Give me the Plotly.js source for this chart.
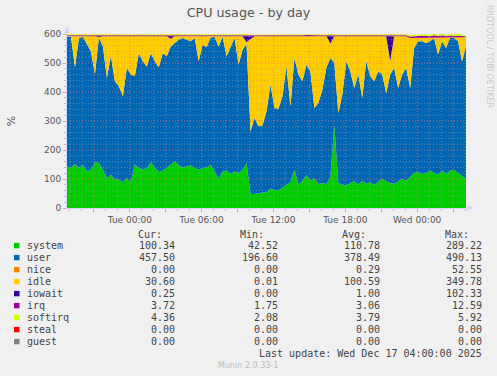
<!DOCTYPE html>
<html><head><meta charset="utf-8">
<script src="https://cdn.plot.ly/plotly-3.0.1.min.js"></script>
<style>html,body{margin:0;padding:0;background:#F0F0F0;}#chart{width:497px;height:376px;}</style>
</head><body><div id="chart"></div>
<script>
// ---- time axis: one sample every 20 minutes ----
const startTime = Date.UTC(2025, 11, 15, 18, 45);
const stepMinutes = 20;

// ---- series values (percent) ----
const system = [144,138,152,138,149,126,132,158,155,132,
  103,115,98,98,90,103,90,150,140,132,
  138,158,140,124,129,138,149,161,147,140,
  144,147,138,132,138,140,149,124,101,126,
  129,117,126,121,132,155,48,48,51,53,
  55,67,62,60,69,80,90,132,80,94,
  113,94,103,83,85,83,105,285,86,80,
  78,86,92,80,94,83,90,80,90,101,
  92,86,83,92,101,94,106,121,124,117,
  121,129,121,115,129,117,129,132,121,109,
  100.34];
const user = [446,452,333,448,441,439,408,304,433,425,
  345,410,339,322,295,380,370,304,394,374,
  350,376,366,361,405,385,408,408,433,446,
  436,428,448,374,425,414,439,466,456,464,
  394,435,460,373,414,410,216,262,231,232,
  278,358,283,282,316,408,260,385,380,343,
  381,377,242,279,323,400,412,215,241,311,
  428,385,322,380,285,423,364,357,381,359,
  304,374,400,322,359,389,308,431,451,458,
  448,446,465,414,446,435,457,454,454,397,
  457.5];
const nice = [0,0,0,0,0,0,0,0,0,0, 0,0,0,0,0,0,0,0,0,0, 0,0,0,0,0,0,0,0,0,0,
  0,0,0,0,0,0,0,0,0,0, 0,0,0,0,0,0,0,0,0,0, 0,0,0,0,0,0,0,0,0,0,
  0,0,0,0,0,0,0,0,0,0, 0,0,0,0,0,0,0,0,0,0, 0,0,0,0,0,0,0,0,0,0,
  0,0,0,0,0,0,0,0,0,0, 0];
const idle = [2,2,107,6,2,27,52,130,0.5,35,
  144,67,155,172,207,109,132,138,58,86,
  104,58,86,107,58,69,27,23,12,6,
  12,17,6,86,29,38,4,2,35,2,
  69,40,6,98,46,7,318,282,310,307,
  259,167,247,250,207,104,242,75,132,155,
  98,121,247,230,184,109,50,92,265,201,
  86,121,178,132,213,86,138,155,121,132,
  196,47,109,178,132,109,172,34,11,11,
  17,11,1,57,11,34,1,1,11,80,
  30.6];
const iowait = [0.5,0.5,0.5,0.5,0.5,0.5,0.5,0.5,5,0.5,
  0.5,0.5,0.5,0.5,0.5,0.5,0.5,0.5,0.5,0.5,
  0.5,0.5,0.5,0.5,0.5,0.5,8,2,0.5,0.5,
  0.5,0.5,0.5,0.5,0.5,0.5,0.5,0.5,0.5,0.5,
  0.5,0.5,0.5,0.5,0.5,20,10,0.5,0.5,0.5,
  0.5,0.5,0.5,0.5,0.5,0.5,0.5,0.5,0.5,0.5,
  1.5,0.5,0.5,0.5,0.5,0.5,25,0.5,0.5,0.5,
  0.5,0.5,0.5,0.5,0.5,0.5,0.5,0.5,0.5,0.5,
  0.5,85,0.5,0.5,0.5,0.5,0.5,0.5,0.5,0.5,
  0.5,0.5,0.5,0.5,0.5,0.5,0.5,0.5,0.5,0.5,
  0.25];
const irq = [3.0,2.8,3.2,3.1,2.9,3.0,3.3,2.7,3.1,3.0,
  2.9,3.1,2.8,3.0,3.2,2.9,3.0,3.1,2.8,3.0,
  3.1,2.9,3.0,3.2,2.8,3.0,3.4,3.1,2.9,3.0,
  3.0,2.9,3.1,3.0,2.8,3.0,3.2,2.9,3.0,3.1,
  2.9,3.0,3.1,2.8,3.0,3.3,2.6,2.5,2.4,2.6,
  2.5,2.7,2.6,2.5,2.8,2.7,2.6,2.9,2.7,2.8,
  2.9,2.8,2.7,2.9,2.8,3.0,3.2,3.0,2.8,2.9,
  2.8,3.0,2.9,2.8,3.0,2.9,3.1,2.8,2.9,3.0,
  3.1,3.6,3.0,2.9,3.1,3.2,4.5,6.0,5.2,7.5,
  6.8,5.5,8.2,6.4,9.0,5.8,7.2,6.1,8.5,5.4,
  3.72];
const softirq = [3.8,3.9,3.7,3.8,4.0,3.7,3.8,3.9,3.6,3.8,
  3.7,3.9,3.8,3.6,3.7,3.8,4.0,3.9,3.7,3.8,
  3.8,3.7,3.9,3.8,3.6,3.8,3.9,3.7,3.8,4.0,
  3.9,3.8,3.7,3.8,3.9,3.7,3.8,3.6,3.8,3.9,
  3.8,3.7,3.9,3.8,3.7,3.9,3.2,3.1,3.0,3.2,
  3.1,3.3,3.2,3.1,3.3,3.4,3.2,3.6,3.3,3.4,
  3.5,3.4,3.3,3.5,3.4,3.6,3.8,3.5,3.4,3.5,
  3.4,3.6,3.5,3.4,3.6,3.5,3.7,3.4,3.5,3.6,
  3.7,3.9,3.6,3.5,3.7,3.8,4.5,5.2,4.8,5.5,
  5.1,4.7,5.6,4.9,5.9,4.6,5.3,4.8,5.7,4.4,
  4.36];
const steal = nice.slice();
const guest = nice.slice();

// ---- legend / stats ----
const seriesNames = ['system','user','nice','idle','iowait','irq','softirq','steal','guest'];
const seriesColors = ['#00CC00','#0066B3','#FF8000','#FFCC00','#330099','#990099','#CCFF00','#FF0000','#808080'];
const curVals = ['100.34','457.50','0.00','30.60','0.25','3.72','4.36','0.00','0.00'];
const minVals = ['42.52','196.60','0.00','0.01','0.00','1.75','2.08','0.00','0.00'];
const avgVals = ['110.78','378.49','0.29','100.59','1.00','3.06','3.79','0.00','0.00'];
const maxVals = ['289.22','490.13','52.55','349.78','102.33','12.59','5.92','0.00','0.00'];
const statHeaders = ['Cur:','Min:','Avg:','Max:'];

// ---- tick labels ----
const xTickVals = ['2025-12-15 21:00','2025-12-16 00:00','2025-12-16 03:00','2025-12-16 06:00','2025-12-16 09:00',
  '2025-12-16 12:00','2025-12-16 15:00','2025-12-16 18:00','2025-12-16 21:00','2025-12-17 00:00','2025-12-17 03:00'];
const xTickText = ['','Tue 00:00','','Tue 06:00','','Tue 12:00','','Tue 18:00','','Wed 00:00',''];
const yTickVals = [0,100,200,300,400,500,600];
const yTickText = ['0','100','200','300','400','500','600'];

const titleText = 'CPU usage - by day';
const yTitle = '%';
const lastUpdate = 'Last update: Wed Dec 17 04:00:00 2025';
const footer = 'Munin 2.0.33-1';
const sideText = 'RRDTOOL / TOBI OETIKER';

// ---------------------------------------------------------------
function fmt(ms){const d=new Date(ms);const p=n=>String(n).padStart(2,'0');
  return d.getUTCFullYear()+'-'+p(d.getUTCMonth()+1)+'-'+p(d.getUTCDate())+' '+p(d.getUTCHours())+':'+p(d.getUTCMinutes());}
const times = system.map((_,k)=>fmt(startTime + k*stepMinutes*60000));
const endTime = startTime + (system.length-1)*stepMinutes*60000;

const seriesData = [system,user,nice,idle,iowait,irq,softirq,steal,guest];
const traces = seriesNames.map((n,i)=>({
  x: times, y: seriesData[i], name: n, type: 'scatter', mode: 'lines',
  stackgroup: 'cpu', line: {width: 0, color: seriesColors[i]},
  fillcolor: seriesColors[i], hoverinfo: 'skip'
}));

const L=67, T=34, W=399, H=174, FW=497, FH=376;
const X = px => (px-L)/W;
const Y = py => (T+H-py)/H;
const MINOR = 'rgba(160,160,160,0.6)';
const MAJOR = 'rgba(255,110,110,0.75)';
const DOT = '1px,2px';

const shapes = [];
for (let v=20; v<=600; v+=20) {
  const major = v%100===0;
  shapes.push({type:'line', xref:'paper', x0:0, x1:1, yref:'y', y0:v, y1:v, layer:'above',
    line:{color: major?MAJOR:MINOR, width:1, dash:DOT}});
}
for (let t=Date.UTC(2025,11,15,19); t<=endTime; t+=3600000) {
  const major = new Date(t).getUTCHours()%3===0;
  shapes.push({type:'line', xref:'x', x0:fmt(t), x1:fmt(t), yref:'paper', y0:0, y1:1, layer:'above',
    line:{color: major?MAJOR:MINOR, width:1, dash:DOT}});
}
// axis arrows
shapes.push({type:'path', xref:'paper', yref:'paper', xsizemode:'pixel', ysizemode:'pixel', xanchor:0, yanchor:1,
  path:'M -3,1 L 3,1 L 0,8 Z', fillcolor:'#CFD6F8', line:{width:0}, layer:'above'});
shapes.push({type:'path', xref:'paper', yref:'paper', xsizemode:'pixel', ysizemode:'pixel', xanchor:1, yanchor:0,
  path:'M 1,-3 L 1,3 L 8,0 Z', fillcolor:'#CFD6F8', line:{width:0}, layer:'above'});

const annotations = [];
const mono = {family:'DejaVu Sans Mono', size:10, color:'#444'};
const headerRight = [163,265,367,470];
const valueRight = [176,279,381,483];
statHeaders.forEach((h,j)=>annotations.push({xref:'paper', yref:'paper', x:X(headerRight[j]), y:Y(234),
  xanchor:'right', yanchor:'middle', text:h, showarrow:false, font:mono, borderpad:0}));
seriesNames.forEach((n,i)=>{
  const ry = 245.7 + 12*i;
  shapes.push({type:'rect', xref:'paper', yref:'paper', x0:X(14), x1:X(19.5), y0:Y(ry+2.6), y1:Y(ry-2.8),
    fillcolor: seriesColors[i], line:{width:0}});
  annotations.push({xref:'paper', yref:'paper', x:X(26), y:Y(ry), xanchor:'left', yanchor:'middle',
    text:n, showarrow:false, font:mono, borderpad:0});
  [curVals,minVals,avgVals,maxVals].forEach((arr,j)=>annotations.push({xref:'paper', yref:'paper',
    x:X(valueRight[j]), y:Y(ry), xanchor:'right', yanchor:'middle', text:arr[i], showarrow:false, font:mono, borderpad:0}));
});
annotations.push({xref:'paper', yref:'paper', x:X(483), y:Y(353.7), xanchor:'right', yanchor:'middle',
  text:lastUpdate, showarrow:false, font:mono, borderpad:0});
annotations.push({xref:'paper', yref:'paper', x:X(248), y:Y(365.7), xanchor:'center', yanchor:'middle',
  text:footer, showarrow:false, font:{family:'DejaVu Sans', size:8, color:'#BBBBBB'}, borderpad:0});
annotations.push({xref:'paper', yref:'paper', x:X(489), y:Y(56), xanchor:'center', yanchor:'middle',
  text:sideText, textangle:90, showarrow:false, font:{family:'DejaVu Sans', size:8, color:'#C8C8C8'}, borderpad:0});

const layout = {
  width: FW, height: FH,
  margin: {l:L, r:FW-L-W, t:T, b:FH-T-H, pad:0},
  paper_bgcolor: '#F0F0F0', plot_bgcolor: '#FFFFFF',
  showlegend: false,
  title: {text:titleText, font:{family:'DejaVu Sans', size:12.7, color:'#555'},
    xref:'container', x:0.5, xanchor:'center', yref:'container', y:1-13/FH, yanchor:'middle'},
  xaxis: {type:'date', range:[times[0], times[times.length-1]], tickmode:'array', tickvals:xTickVals, ticktext:xTickText,
    ticks:'outside', ticklen:3, tickcolor:'#FF9090', showgrid:false, zeroline:false, showline:true, linecolor:'#CFD6F8',
    tickfont:{family:'DejaVu Sans', size:9, color:'#555'}, fixedrange:true,
    minor:{tickmode:'linear', tick0:'2025-12-15 19:00', dtick:3600000, ticks:'outside', ticklen:2, tickcolor:'#BBBBBB', showgrid:false}},
  yaxis: {range:[0,600], tickmode:'array', tickvals:yTickVals, ticktext:yTickText,
    ticks:'outside', ticklen:3, tickcolor:'#FF9090', showgrid:false, zeroline:false, showline:true, linecolor:'#CFD6F8',
    tickfont:{family:'DejaVu Sans', size:9, color:'#555'}, fixedrange:true,
    minor:{tickmode:'linear', tick0:0, dtick:20, ticks:'outside', ticklen:2, tickcolor:'#BBBBBB', showgrid:false},
    title:{text:yTitle, font:{family:'DejaVu Sans', size:11, color:'#555'}, standoff:26}},
  shapes: shapes,
  annotations: annotations
};

Plotly.newPlot('chart', traces, layout, {staticPlot:true, displayModeBar:false});
</script>
</body></html>
